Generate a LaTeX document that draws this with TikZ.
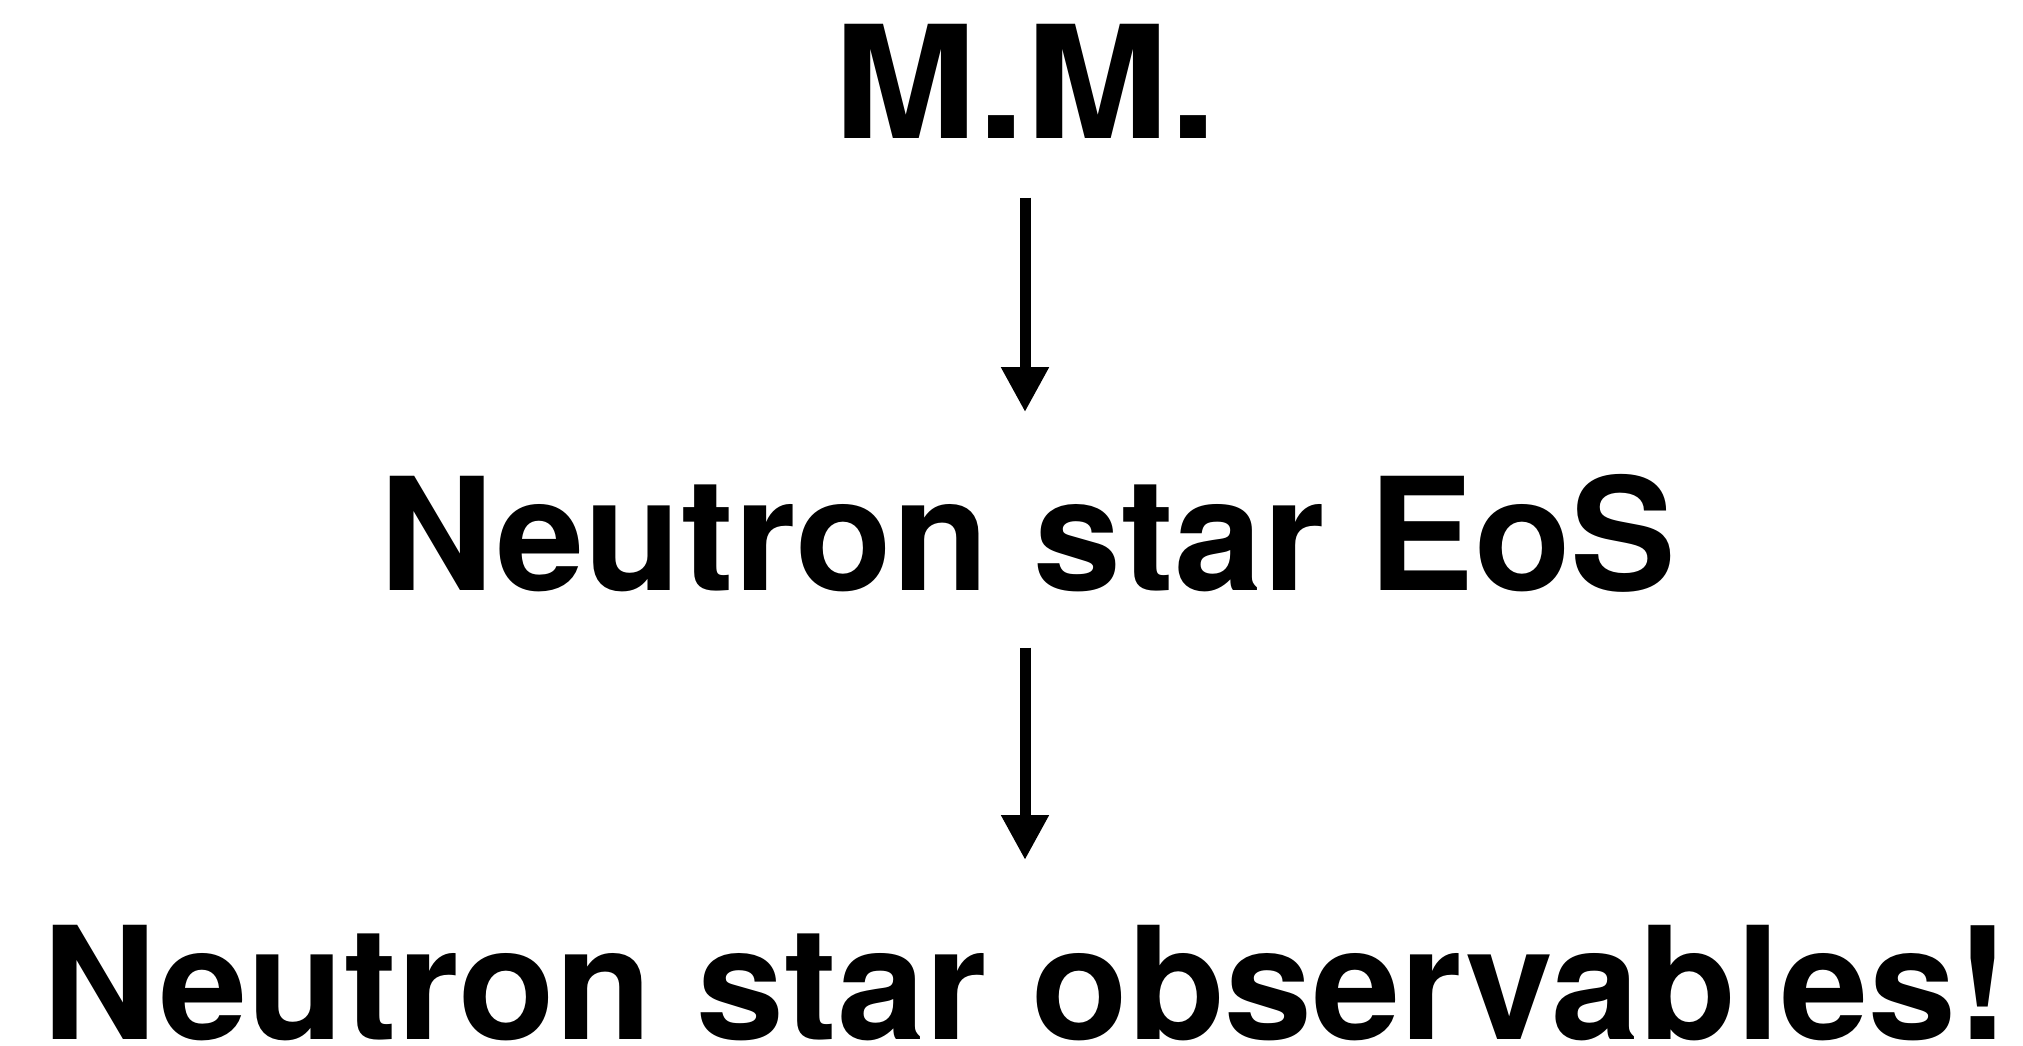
\documentclass[tikz,border=0pt]{standalone}
\usepackage{fontspec}
\setmainfont{TeX Gyre Heros}[FakeStretch=1.01]
\newfontfamily\mmfont{TeX Gyre Heros}[FakeStretch=1.10]
\usepackage{tikz}
\usetikzlibrary{arrows.meta, positioning, calc}

\begin{document}
\begin{tikzpicture}[>={Triangle[width=4.5mm, length=4.5mm]},
      lbl/.style={anchor=base, inner sep=0pt,
                  font=\bfseries\fontsize{44.6}{50}\selectfont},
      flow/.style={->, line width=1.1mm}]
    \useasboundingbox (0,0) rectangle (20.23,-10.46);
    \node[lbl] (mm)  at (10.255,-1.39)  {\mmfont M.M.};
    \node[lbl] (eos) at (10.28,-5.91)   {Neutron star EoS};
    \node[lbl] (obs) at (10.255,-10.40) {Neutron star observables!};
    \draw[flow, shorten <=5.8mm, shorten >=6.2mm] (mm.south -| 10.25,0) -- (eos.north -| 10.25,0);
    \draw[flow, shorten <=5.4mm, shorten >=6.5mm] (eos.south -| 10.25,0) -- (obs.north -| 10.25,0);
  \end{tikzpicture}
\end{document}
